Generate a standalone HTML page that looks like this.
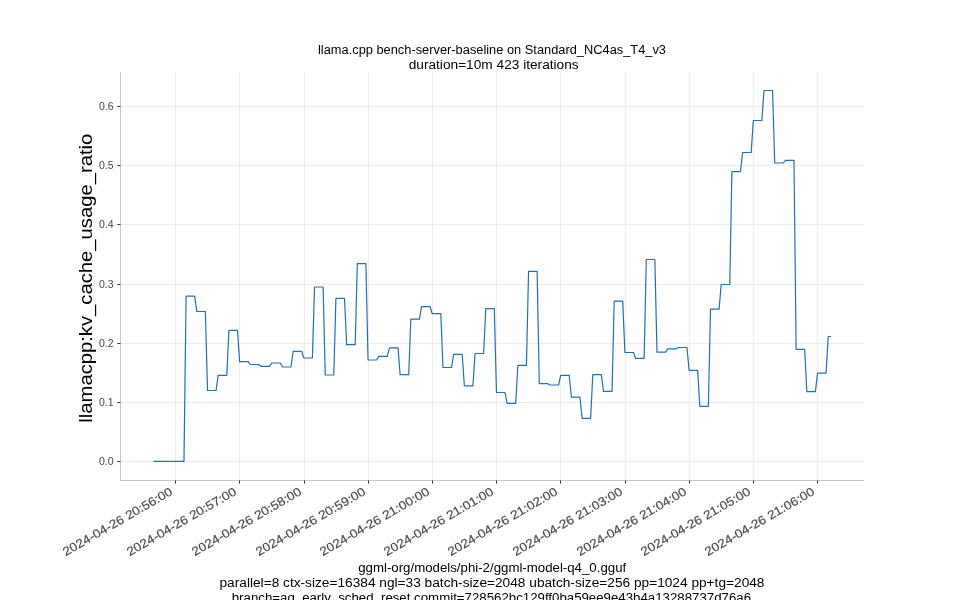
<!DOCTYPE html><html><head><meta charset="utf-8"><style>html,body{margin:0;padding:0;background:#fff;}svg{display:block;will-change:transform;}text{font-family:"Liberation Sans",sans-serif;}</style></head><body>
<svg width="960" height="600" viewBox="0 0 960 600">
<rect width="960" height="600" fill="#fff"/>
<path d="M120 106.5H864 M120 165.5H864 M120 224.5H864 M120 284.5H864 M120 343.5H864 M120 402.5H864 M120 461.5H864 M175.5 72V480 M239.5 72V480 M304.5 72V480 M368.5 72V480 M432.5 72V480 M496.5 72V480 M560.5 72V480 M625.5 72V480 M689.5 72V480 M753.5 72V480 M817.5 72V480" stroke="#ececec" stroke-width="1" fill="none"/>
<path d="M120.5 72V480.5M120 480.5H864" stroke="#c6c6c6" stroke-width="1" fill="none"/>
<path d="M117.3 106.5H120.5 M117.3 165.5H120.5 M117.3 224.5H120.5 M117.3 284.5H120.5 M117.3 343.5H120.5 M117.3 402.5H120.5 M117.3 461.5H120.5 M175.5 480.5V483.6 M239.5 480.5V483.6 M304.5 480.5V483.6 M368.5 480.5V483.6 M432.5 480.5V483.6 M496.5 480.5V483.6 M560.5 480.5V483.6 M625.5 480.5V483.6 M689.5 480.5V483.6 M753.5 480.5V483.6 M817.5 480.5V483.6" stroke="#222" stroke-width="0.9" fill="none"/>
<polyline points="154.00,461.30 183.96,461.30 186.10,296.20 194.66,296.20 196.80,311.50 205.37,311.50 207.51,390.50 216.07,390.50 218.21,375.30 226.77,375.30 228.91,330.40 237.47,330.40 239.61,361.70 248.17,361.70 250.31,364.50 258.88,364.50 261.02,366.30 269.58,366.30 271.72,363.00 280.28,363.00 282.42,367.00 290.98,367.00 293.12,351.30 301.68,351.30 303.82,358.00 312.39,358.00 314.53,287.00 323.09,287.00 325.23,375.00 333.79,375.00 335.93,298.30 344.49,298.30 346.63,344.70 355.19,344.70 357.33,263.70 365.90,263.70 368.04,360.00 376.60,360.00 378.74,356.30 387.30,356.30 389.44,347.80 398.00,347.80 400.14,374.70 408.70,374.70 410.84,319.20 419.41,319.20 421.55,306.70 430.11,306.70 432.25,313.70 440.81,313.70 442.95,367.50 451.51,367.50 453.65,354.30 462.21,354.30 464.35,385.80 472.92,385.80 475.06,353.50 483.62,353.50 485.76,308.70 494.32,308.70 496.46,392.50 505.02,392.50 507.16,403.30 515.72,403.30 517.86,365.30 526.43,365.30 528.57,271.30 537.13,271.30 539.27,383.70 547.83,383.70 549.97,385.00 558.53,385.00 560.67,375.30 569.23,375.30 571.37,397.20 579.94,397.20 582.08,418.30 590.64,418.30 592.78,374.70 601.34,374.70 603.48,391.30 612.04,391.30 614.18,301.20 622.74,301.20 624.88,352.50 633.45,352.50 635.59,358.30 644.15,358.30 646.29,259.50 654.85,259.50 656.99,352.20 665.55,352.20 667.69,348.80 676.25,348.80 678.39,347.50 686.96,347.50 689.10,370.30 697.66,370.30 699.80,406.30 708.36,406.30 710.50,309.20 719.06,309.20 721.20,284.50 729.76,284.50 731.90,171.70 740.47,171.70 742.61,152.50 751.17,152.50 753.31,120.50 761.87,120.50 764.01,90.50 772.57,90.50 774.71,163.00 783.27,163.00 785.41,160.30 793.98,160.30 796.12,349.40 804.68,349.40 806.82,391.60 815.38,391.60 817.52,373.10 826.08,373.10 828.22,336.50 830.36,336.50" fill="none" stroke="#2470a8" stroke-width="1.2" stroke-linejoin="round" stroke-linecap="square"/>
<text x="113.6" y="109.9" font-size="10.5" fill="#4d4d4d" stroke="#4d4d4d" stroke-width="0.05" text-anchor="end" textLength="14.6" lengthAdjust="spacingAndGlyphs">0.6</text>
<text x="113.6" y="168.9" font-size="10.5" fill="#4d4d4d" stroke="#4d4d4d" stroke-width="0.05" text-anchor="end" textLength="14.6" lengthAdjust="spacingAndGlyphs">0.5</text>
<text x="113.6" y="227.9" font-size="10.5" fill="#4d4d4d" stroke="#4d4d4d" stroke-width="0.05" text-anchor="end" textLength="14.6" lengthAdjust="spacingAndGlyphs">0.4</text>
<text x="113.6" y="287.9" font-size="10.5" fill="#4d4d4d" stroke="#4d4d4d" stroke-width="0.05" text-anchor="end" textLength="14.6" lengthAdjust="spacingAndGlyphs">0.3</text>
<text x="113.6" y="346.9" font-size="10.5" fill="#4d4d4d" stroke="#4d4d4d" stroke-width="0.05" text-anchor="end" textLength="14.6" lengthAdjust="spacingAndGlyphs">0.2</text>
<text x="113.6" y="405.9" font-size="10.5" fill="#4d4d4d" stroke="#4d4d4d" stroke-width="0.05" text-anchor="end" textLength="14.6" lengthAdjust="spacingAndGlyphs">0.1</text>
<text x="113.6" y="464.9" font-size="10.5" fill="#4d4d4d" stroke="#4d4d4d" stroke-width="0.05" text-anchor="end" textLength="14.6" lengthAdjust="spacingAndGlyphs">0.0</text>
<text transform="translate(173.5,494.0) rotate(-30)" font-size="12.2" fill="#4d4d4d" stroke="#4d4d4d" stroke-width="0.2" text-anchor="end" textLength="124.3" lengthAdjust="spacingAndGlyphs">2024-04-26 20:56:00</text>
<text transform="translate(237.5,494.0) rotate(-30)" font-size="12.2" fill="#4d4d4d" stroke="#4d4d4d" stroke-width="0.2" text-anchor="end" textLength="124.3" lengthAdjust="spacingAndGlyphs">2024-04-26 20:57:00</text>
<text transform="translate(302.5,494.0) rotate(-30)" font-size="12.2" fill="#4d4d4d" stroke="#4d4d4d" stroke-width="0.2" text-anchor="end" textLength="124.3" lengthAdjust="spacingAndGlyphs">2024-04-26 20:58:00</text>
<text transform="translate(366.5,494.0) rotate(-30)" font-size="12.2" fill="#4d4d4d" stroke="#4d4d4d" stroke-width="0.2" text-anchor="end" textLength="124.3" lengthAdjust="spacingAndGlyphs">2024-04-26 20:59:00</text>
<text transform="translate(430.5,494.0) rotate(-30)" font-size="12.2" fill="#4d4d4d" stroke="#4d4d4d" stroke-width="0.2" text-anchor="end" textLength="124.3" lengthAdjust="spacingAndGlyphs">2024-04-26 21:00:00</text>
<text transform="translate(494.5,494.0) rotate(-30)" font-size="12.2" fill="#4d4d4d" stroke="#4d4d4d" stroke-width="0.2" text-anchor="end" textLength="124.3" lengthAdjust="spacingAndGlyphs">2024-04-26 21:01:00</text>
<text transform="translate(558.5,494.0) rotate(-30)" font-size="12.2" fill="#4d4d4d" stroke="#4d4d4d" stroke-width="0.2" text-anchor="end" textLength="124.3" lengthAdjust="spacingAndGlyphs">2024-04-26 21:02:00</text>
<text transform="translate(623.5,494.0) rotate(-30)" font-size="12.2" fill="#4d4d4d" stroke="#4d4d4d" stroke-width="0.2" text-anchor="end" textLength="124.3" lengthAdjust="spacingAndGlyphs">2024-04-26 21:03:00</text>
<text transform="translate(687.5,494.0) rotate(-30)" font-size="12.2" fill="#4d4d4d" stroke="#4d4d4d" stroke-width="0.2" text-anchor="end" textLength="124.3" lengthAdjust="spacingAndGlyphs">2024-04-26 21:04:00</text>
<text transform="translate(751.5,494.0) rotate(-30)" font-size="12.2" fill="#4d4d4d" stroke="#4d4d4d" stroke-width="0.2" text-anchor="end" textLength="124.3" lengthAdjust="spacingAndGlyphs">2024-04-26 21:05:00</text>
<text transform="translate(815.5,494.0) rotate(-30)" font-size="12.2" fill="#4d4d4d" stroke="#4d4d4d" stroke-width="0.2" text-anchor="end" textLength="124.3" lengthAdjust="spacingAndGlyphs">2024-04-26 21:06:00</text>
<text x="492" y="53.9" font-size="12.3" fill="#000" text-anchor="middle" textLength="348" lengthAdjust="spacingAndGlyphs">llama.cpp bench-server-baseline on Standard_NC4as_T4_v3</text>
<text x="493.7" y="68.7" font-size="12.3" fill="#000" text-anchor="middle" textLength="170" lengthAdjust="spacingAndGlyphs">duration=10m 423 iterations</text>
<text transform="translate(91.7,278.2) rotate(-90)" font-size="19.2" fill="#000" text-anchor="middle" textLength="289" lengthAdjust="spacingAndGlyphs">llamacpp:kv_cache_usage_ratio</text>
<text x="492.2" y="571.8" font-size="12.3" fill="#000" text-anchor="middle" textLength="268" lengthAdjust="spacingAndGlyphs">ggml-org/models/phi-2/ggml-model-q4_0.gguf</text>
<text x="492.0" y="586.7" font-size="12.3" fill="#000" text-anchor="middle" textLength="545" lengthAdjust="spacingAndGlyphs">parallel=8 ctx-size=16384 ngl=33 batch-size=2048 ubatch-size=256 pp=1024 pp+tg=2048</text>
<text x="491.4" y="601.5" font-size="12.3" fill="#000" text-anchor="middle" textLength="519.3" lengthAdjust="spacingAndGlyphs">branch=ag_early_sched_reset commit=728562bc129ff0ba59ee9e43b4a13288737d76a6</text>
</svg></body></html>
